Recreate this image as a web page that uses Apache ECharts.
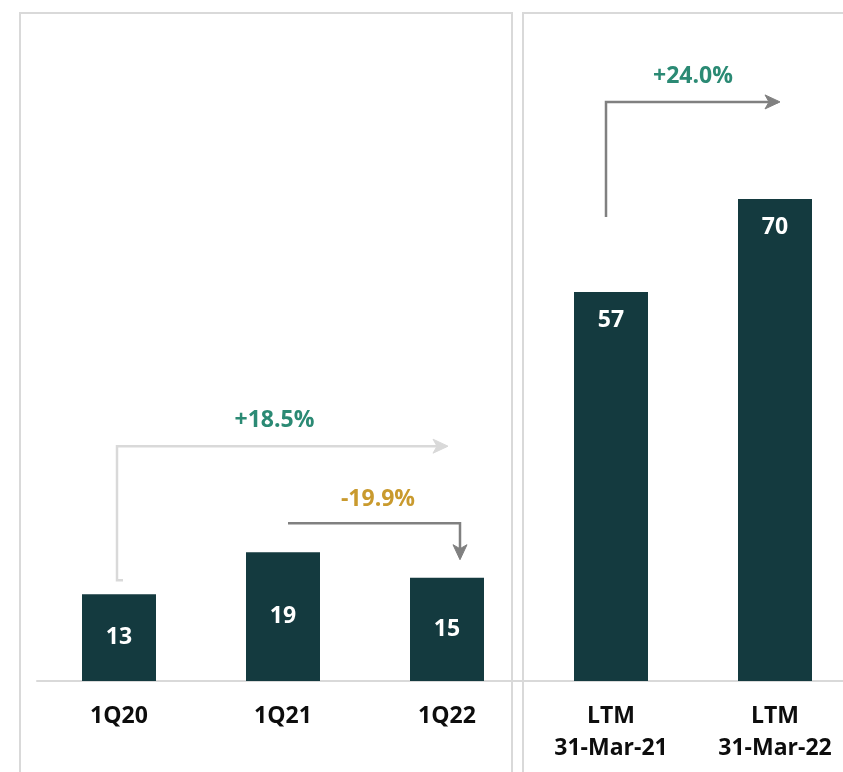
<!DOCTYPE html>
<html>
<head>
<meta charset="utf-8">
<script src="https://cdn.jsdelivr.net/npm/echarts@6/dist/echarts.min.js"></script>
<style>
html,body{margin:0;padding:0;background:#fff;}
#chart{width:843px;height:772px;}
</style>
</head>
<body>
<div id="chart"></div>
<script>
// ---- data ----
const categories = ['1Q20', '1Q21', '1Q22', 'LTM\n31-Mar-21', 'LTM\n31-Mar-22'];
const values = [12.6, 18.7, 15.0, 56.5, 70.0];
const valueLabels = ['13', '19', '15', '57', '70'];
// growth annotations: from index, to index, text, level (value units)
const growthFrom = [0, 1, 3];
const growthTo = [2, 2, 4];
const growthText = ['+18.5%', '-19.9%', '+24.0%'];
const growthLevel = [34.1, 22.9, 84.1];

const BAR = '#143a3f';
const TEAL = '#2b8a74';
const GOLD = '#c99a2e';
const LIGHT = '#d9d9d9';
const GRAY = '#808080';
const FONT = '"Open Sans", "Noto Sans", sans-serif';

const chart = echarts.init(document.getElementById('chart'), null, {renderer: 'canvas'});

const labelPos = ['inside', 'inside', 'inside', 'insideTop', 'insideTop'];

chart.setOption({
  animation: false,
  backgroundColor: '#fff',
  grid: {left: 37, width: 820, top: 199, bottom: 91, containLabel: false, outerBoundsMode: 'none'},
  xAxis: {
    type: 'category',
    data: categories,
    axisLine: {lineStyle: {color: LIGHT, width: 2}},
    axisTick: {show: false},
    axisLabel: {
      color: '#0d0d0d', fontSize: 23, fontWeight: 'bold', fontFamily: FONT,
      lineHeight: 32, margin: 19, interval: 0
    }
  },
  yAxis: {
    type: 'value', min: 0, max: 70,
    show: false, splitLine: {show: false}
  },
  series: [{
    type: 'bar',
    barWidth: 74,
    itemStyle: {color: BAR},
    data: values.map((v, i) => ({
      value: v,
      label: {
        show: true,
        position: labelPos[i],
        distance: 17,
        formatter: valueLabels[i],
        color: '#fff', fontSize: 23, fontWeight: 'bold', fontFamily: FONT
      }
    }))
  }]
});

function px(i, v) { return chart.convertToPixel({seriesIndex: 0}, [i, v]); }

function buildGraphics() {
  const els = [];
  // panel frames
  els.push({type: 'rect', z: -10, silent: true,
    shape: {x: 20, y: 13, width: 492, height: 800},
    style: {fill: 'none', stroke: LIGHT, lineWidth: 2}});
  els.push({type: 'rect', z: -10, silent: true,
    shape: {x: 523, y: 13, width: 400, height: 800},
    style: {fill: 'none', stroke: LIGHT, lineWidth: 2}});

  // arrow 1: 1Q20 -> 1Q22 (elbow up, then right)
  {
    const a = px(growthFrom[0], values[growthFrom[0]]);
    const b = px(growthTo[0], values[growthTo[0]]);
    const yL = px(0, growthLevel[0])[1];
    const x0 = a[0] - 2, yb = a[1] - 14, xe = b[0] + 1;
    els.push({type: 'polyline', silent: true,
      shape: {points: [[x0 + 6, yb], [x0, yb], [x0, yL], [xe - 2, yL]]},
      style: {fill: 'none', stroke: LIGHT, lineWidth: 2.5}});
    els.push({type: 'polygon', silent: true,
      shape: {points: [[xe, yL], [xe - 15, yL - 7], [xe - 11, yL], [xe - 15, yL + 7]]},
      style: {fill: LIGHT, stroke: LIGHT, lineWidth: 1, lineJoin: 'round'}});
    els.push({type: 'text', silent: true,
      style: {text: growthText[0], x: (x0 + xe) / 2 - 8, y: yL - 26, align: 'center', verticalAlign: 'middle',
        fill: TEAL, font: 'bold 23px ' + FONT}});
  }
  // arrow 2: 1Q21 -> 1Q22 (right, then down)
  {
    const a = px(growthFrom[1], values[growthFrom[1]]);
    const b = px(growthTo[1], values[growthTo[1]]);
    const yL = px(0, growthLevel[1])[1];
    const x0 = a[0] + 5, xe = b[0] + 13, tip = b[1] - 18;
    els.push({type: 'polyline', silent: true,
      shape: {points: [[x0, yL], [xe, yL], [xe, tip - 3]]},
      style: {fill: 'none', stroke: GRAY, lineWidth: 2.5}});
    els.push({type: 'polygon', silent: true,
      shape: {points: [[xe, tip], [xe - 7, tip - 15], [xe, tip - 11], [xe + 7, tip - 15]]},
      style: {fill: GRAY, stroke: GRAY, lineWidth: 1, lineJoin: 'round'}});
    els.push({type: 'text', silent: true,
      style: {text: growthText[1], x: (x0 + xe) / 2 + 4, y: yL - 24, align: 'center', verticalAlign: 'middle',
        fill: GOLD, font: 'bold 23px ' + FONT}});
  }
  // arrow 3: LTM21 -> LTM22 (up, then right)
  {
    const a = px(growthFrom[2], values[growthFrom[2]]);
    const b = px(growthTo[2], values[growthTo[2]]);
    const yL = px(0, growthLevel[2])[1];
    const x0 = a[0] - 5, yb = a[1] - 75, xe = b[0] + 5;
    els.push({type: 'polyline', silent: true,
      shape: {points: [[x0, yb], [x0, yL], [xe - 2, yL]]},
      style: {fill: 'none', stroke: GRAY, lineWidth: 2.5}});
    els.push({type: 'polygon', silent: true,
      shape: {points: [[xe, yL], [xe - 15, yL - 7], [xe - 11, yL], [xe - 15, yL + 7]]},
      style: {fill: GRAY, stroke: GRAY, lineWidth: 1, lineJoin: 'round'}});
    els.push({type: 'text', silent: true,
      style: {text: growthText[2], x: (x0 + xe) / 2, y: yL - 25, align: 'center', verticalAlign: 'middle',
        fill: TEAL, font: 'bold 23px ' + FONT}});
  }
  chart.setOption({graphic: {elements: els}});
}
buildGraphics();
</script>
</body>
</html>
